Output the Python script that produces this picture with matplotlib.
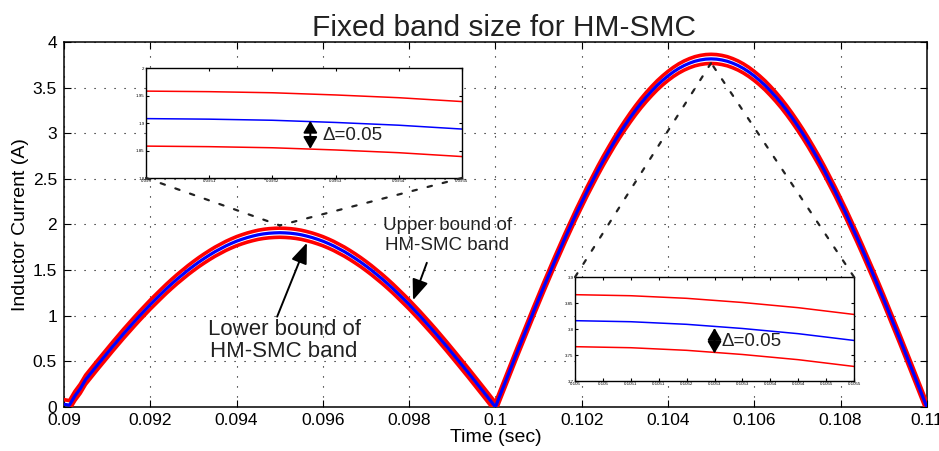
import numpy as np
import matplotlib
matplotlib.use('Agg')
import matplotlib.pyplot as plt
from matplotlib.patches import ConnectionPatch

plt.rcParams['font.family'] = ['Liberation Sans', 'DejaVu Sans']

t_main = np.round(np.arange(0.09, 0.11 + 1e-9, 0.000125), 6)
i_main = [
    # first half cycle 0.09 .. 0.1
    0.030, 0.020, 0.120, 0.200, 0.299, 0.373, 0.446, 0.518, 0.590, 0.661,
    0.731, 0.800, 0.867, 0.933, 0.998, 1.061, 1.123, 1.182, 1.240, 1.297,
    1.351, 1.403, 1.452, 1.500, 1.545, 1.588, 1.628, 1.666, 1.702, 1.734,
    1.765, 1.792, 1.817, 1.838, 1.857, 1.873, 1.887, 1.897, 1.904, 1.908,
    1.910, 1.908, 1.904, 1.897, 1.887, 1.873, 1.857, 1.838, 1.817, 1.792,
    1.765, 1.734, 1.702, 1.666, 1.628, 1.588, 1.545, 1.500, 1.452, 1.403,
    1.351, 1.297, 1.240, 1.182, 1.123, 1.061, 0.998, 0.933, 0.867, 0.800,
    0.731, 0.661, 0.590, 0.518, 0.446, 0.373, 0.299, 0.224, 0.150, 0.075,
    0.000,
    # second half cycle 0.1 .. 0.11
    0.150, 0.299, 0.448, 0.597, 0.744, 0.890, 1.035, 1.179, 1.320,
    1.460, 1.597, 1.732, 1.864, 1.993, 2.120, 2.242, 2.362, 2.477, 2.590,
    2.698, 2.801, 2.901, 2.996, 3.086, 3.172, 3.253, 3.329, 3.399, 3.464,
    3.525, 3.579, 3.628, 3.672, 3.710, 3.742, 3.768, 3.789, 3.803, 3.812,
    3.815, 3.812, 3.803, 3.789, 3.768, 3.742, 3.710, 3.672, 3.628, 3.579,
    3.525, 3.464, 3.399, 3.329, 3.253, 3.172, 3.086, 2.996, 2.901, 2.801,
    2.698, 2.590, 2.477, 2.362, 2.242, 2.120, 1.993, 1.864, 1.732, 1.597,
    1.460, 1.320, 1.179, 1.035, 0.890, 0.744, 0.597, 0.448, 0.299, 0.150,
    0.000]
delta = 0.05

# zoomed views
t_zoom1 = [0.0950, 0.0951, 0.0952, 0.0953, 0.0954, 0.0955]
i_zoom1 = [1.908, 1.907, 1.905, 1.901, 1.896, 1.889]
t_zoom2 = [0.1050, 0.1051, 0.1052, 0.1053, 0.1054, 0.1055]
i_zoom2 = [3.816, 3.814, 3.809, 3.801, 3.791, 3.778]

x_ticks = [0.09, 0.092, 0.094, 0.096, 0.098, 0.1, 0.102, 0.104, 0.106, 0.108, 0.11]
x_labels = ['0.09', '0.092', '0.094', '0.096', '0.098', '0.1', '0.102', '0.104', '0.106', '0.108', '0.11']
y_ticks = [0, 0.5, 1, 1.5, 2, 2.5, 3, 3.5, 4]
y_labels = ['0', '0.5', '1', '1.5', '2', '2.5', '3', '3.5', '4']

z1_xt = [0.095, 0.0951, 0.0952, 0.0953, 0.0954, 0.0955]
z1_xl = ['0.095', '0.0951', '0.0952', '0.0953', '0.0954', '0.0955']
z1_yt = [1.8, 1.85, 1.9, 1.95, 2.0]
z1_yl = ['1.8', '1.85', '1.9', '1.95', '2']
z2_xt = [0.105, 0.10505, 0.1051, 0.10515, 0.1052, 0.10525, 0.1053, 0.10535, 0.1054, 0.10545, 0.1055]
z2_xl = ['0.105', '0.105', '0.1051', '0.1051', '0.1052', '0.1053', '0.1053', '0.1054', '0.1054', '0.1055', '0.1055']
z2_yt = [3.7, 3.75, 3.8, 3.85, 3.9]
z2_yl = ['3.7', '3.75', '3.8', '3.85', '3.9']

i_arr = np.array(i_main)
txt_col = '#222222'

fig = plt.figure(figsize=(9.39, 4.51), dpi=100)
ax = fig.add_axes([0.0682, 0.0976, 0.9188, 0.8093])

grid_ls = (0, (1, 8))
ax.plot(t_main, i_arr + delta, color='red', lw=2.6, zorder=3)
ax.plot(t_main, i_arr - delta, color='red', lw=2.6, zorder=3)
ax.plot(t_main, i_arr, color='blue', lw=2.3, zorder=4)
ax.set_xlim(0.09, 0.11)
ax.set_ylim(0, 4)
ax.set_xticks(x_ticks)
ax.set_xticklabels(x_labels)
ax.set_yticks(y_ticks)
ax.set_yticklabels(y_labels)
ax.tick_params(direction='in', top=True, right=True, length=5, labelsize=12.5)
ax.tick_params(axis='x', pad=4)
ax.tick_params(axis='y', pad=5)
ax.grid(True, color='black', linestyle=grid_ls, lw=0.8)
for s in ax.spines.values():
    s.set_linewidth(1.1)
ax.set_xlabel('Time (sec)', fontsize=14, labelpad=1)
ax.set_ylabel('Inductor Current (A)', fontsize=14, labelpad=3)
ax.set_title('Fixed band size for HM-SMC', fontsize=21.5, pad=4, x=0.51, color=txt_col)

# annotations
arr = dict(arrowstyle='-|>,head_length=0.9,head_width=0.35', color='black', lw=1.4,
           mutation_scale=14, shrinkA=0, shrinkB=0)
ax.annotate('', xy=(0.09809, 1.17), xytext=(0.09841, 1.58), arrowprops=arr, zorder=6)
ax.text(0.09888, 1.88, 'Upper bound of\nHM-SMC band', ha='center', va='center', fontsize=13.5,
        linespacing=1.25, color=txt_col)
ax.annotate('', xy=(0.09563, 1.80), xytext=(0.09494, 0.99), arrowprops=arr, zorder=6)
ax.text(0.0951, 0.73, 'Lower bound of\nHM-SMC band', ha='center', va='center', fontsize=16,
        linespacing=1.05, color=txt_col)

dbl = dict(arrowstyle='<|-|>,head_length=0.6,head_width=0.35', color='black', lw=1.4,
           mutation_scale=12, shrinkA=0, shrinkB=0)


def style_inset(a, xt, xl, yt, yl):
    a.set_xticks(xt)
    a.set_xticklabels(xl)
    a.set_yticks(yt)
    a.set_yticklabels(yl)
    a.tick_params(direction='in', top=True, right=True, length=2.5, labelsize=3.2, pad=1)
    for s in a.spines.values():
        s.set_linewidth(1.0)


# inset 1
ax1 = fig.add_axes([0.1555, 0.6053, 0.3365, 0.2439])
ax1.plot(t_zoom1, np.array(i_zoom1) + delta, color='red', lw=1.1)
ax1.plot(t_zoom1, i_zoom1, color='blue', lw=1.1)
ax1.plot(t_zoom1, np.array(i_zoom1) - delta, color='red', lw=1.1)
ax1.set_xlim(0.095, 0.0955)
ax1.set_ylim(1.8, 2.0)
style_inset(ax1, z1_xt, z1_xl, z1_yt, z1_yl)
ax1.annotate('', xy=(0.09526, 1.904), xytext=(0.09526, 1.853), arrowprops=dbl)
ax1.text(0.09528, 1.878, 'Δ=0.05', fontsize=13.5, va='center', ha='left', color=txt_col)

# inset 2
ax2 = fig.add_axes([0.6124, 0.1552, 0.2971, 0.2306])
ax2.plot(t_zoom2, np.array(i_zoom2) + delta, color='red', lw=1.1)
ax2.plot(t_zoom2, i_zoom2, color='blue', lw=1.1)
ax2.plot(t_zoom2, np.array(i_zoom2) - delta, color='red', lw=1.1)
ax2.set_xlim(0.105, 0.1055)
ax2.set_ylim(3.7, 3.9)
style_inset(ax2, z2_xt, z2_xl, z2_yt, z2_yl)
ax2.annotate('', xy=(0.10525, 3.802), xytext=(0.10525, 3.753), arrowprops=dbl)
ax2.text(0.105263, 3.776, 'Δ=0.05', fontsize=13.5, va='center', ha='left', color=txt_col)

# dashed connector lines
con_ls = (0, (2, 5))
for ins, corners, pt in [(ax1, [(0, 0), (1, 0)], (0.095, 1.99)),
                         (ax2, [(0, 1), (1, 1)], (0.105, 3.77))]:
    for c in corners:
        cp = ConnectionPatch(xyA=c, coordsA=ins.transAxes, xyB=pt, coordsB=ax.transData,
                             color=txt_col, lw=1.6, linestyle=con_ls, zorder=5)
        fig.add_artist(cp)

fig.savefig('out.png', dpi=100)
